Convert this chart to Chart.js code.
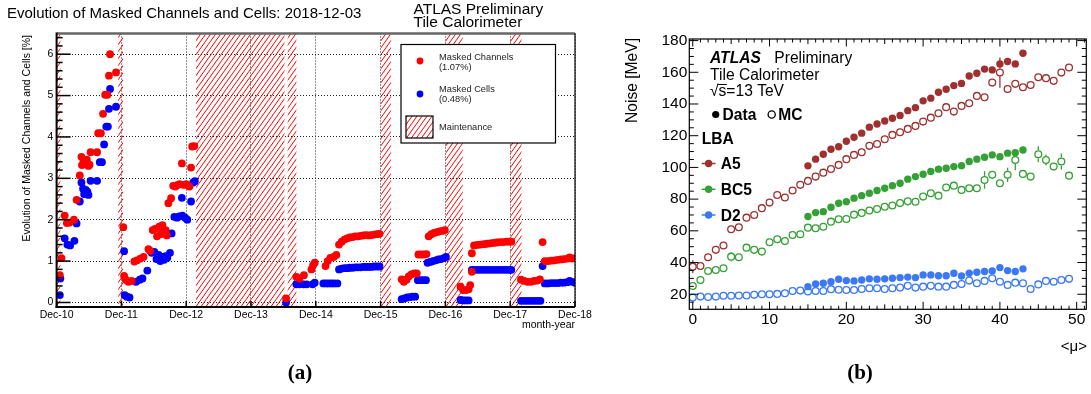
<!DOCTYPE html>
<html><head><meta charset="utf-8">
<script src="https://cdn.jsdelivr.net/npm/chart.js@4"></script>
<style>
html,body{margin:0;padding:0;background:#fff;width:1091px;height:394px;overflow:hidden}
#c1{position:absolute;left:0;top:0}
#c2{position:absolute;left:600px;top:0}
</style></head><body>
<canvas id="c1" width="600" height="394"></canvas>
<canvas id="c2" width="491" height="394"></canvas>
<script>
// ---------------- Panel (a) data ----------------
const monthTicks = ['Dec-10','Dec-11','Dec-12','Dec-13','Dec-14','Dec-15','Dec-16','Dec-17','Dec-18'];
// months since Dec-10
const maintenance = [[0,0.7],[11.4,12.3],[25.8,42.2],[42.8,44.4],[60.05,61.9],[72.05,75.2],[84.0,86.1]];
const maskedChannels = [
 [0.6,0.66],[0.9,1.07],[1.5,2.1],[1.9,1.92],[2.4,1.93],[3.2,2.0],[3.7,2.48],[4.3,3.07],[4.6,3.52],[4.7,3.32],[5.0,3.42],[5.3,3.35],[5.6,3.45],[5.9,3.3],[6.1,3.33],[6.3,3.63],[7.5,3.63],[7.7,4.09],[8.2,4.09],[8.6,4.56],[9.0,5.02],[9.4,5.02],[9.7,5.48],[9.9,6.0],[11.0,5.56],
 [12.35,1.82],[12.5,0.64],[12.8,0.55],[13.3,0.5],[13.9,0.52],[14.4,0.99],[14.9,1.02],[15.5,1.06],[16.1,1.1],[17.0,1.29],[17.3,1.25],[17.8,1.75],[18.2,1.78],[18.6,1.6],[19.0,1.83],[19.3,1.65],[19.6,1.87],[19.9,1.7],[20.2,1.75],[20.4,1.62],[20.7,2.4],[21.2,2.52],[21.6,2.82],[22.0,2.8],[22.4,2.84],[22.8,2.86],[23.2,3.36],[23.6,2.84],[24.0,2.86],[24.6,2.8],[24.9,3.26],[25.1,3.77],[25.5,3.78],
 [42.5,0.1],
 [44.4,0.62],[45.0,0.58],[45.8,0.66],[47.2,0.8],[47.5,0.9],[47.8,0.96],
 [49.8,0.88],[50.2,1.0],[50.7,1.08],[51.3,1.1],[51.8,1.15],
 [52.3,1.4],[52.8,1.47],[53.3,1.52],[53.8,1.55],[54.3,1.57],[54.8,1.58],[55.3,1.6],[55.8,1.6],[56.3,1.61],[56.8,1.62],[57.3,1.63],[57.8,1.62],[58.3,1.63],[58.8,1.64],[59.3,1.65],[59.8,1.66],
 [63.9,0.56],[64.3,0.5],[64.8,0.55],[65.2,0.63],[65.7,0.68],[66.2,0.7],[66.7,0.7],
 [67.0,1.16],[67.5,1.16],[68.0,1.16],[68.5,1.17],
 [68.9,1.6],[69.4,1.65],[69.9,1.68],[70.4,1.7],[70.9,1.72],[71.4,1.73],[71.9,1.75],
 [74.8,0.38],[75.3,0.3],[75.8,0.3],[76.3,0.32],[76.6,0.42],[76.9,0.74],[76.9,1.19],
 [77.3,1.38],[77.9,1.39],[78.5,1.4],[79.1,1.41],[79.7,1.42],[80.3,1.43],[80.9,1.44],[81.5,1.45],[82.1,1.46],[82.7,1.46],[83.3,1.47],[83.9,1.47],[84.2,1.47],
 [86.0,0.55],[86.6,0.52],[87.2,0.5],[87.8,0.5],[88.4,0.52],[89.0,0.53],[89.5,0.56],
 [90.0,1.46],
 [90.4,1.0],[91.0,1.0],[91.6,1.01],[92.2,1.02],[92.8,1.03],[93.4,1.04],[94.0,1.05],[94.6,1.06],[95.0,1.09],[95.5,1.06],[96.0,1.07]
];
const maskedCells = [
 [0.6,0.18],[0.7,0.58],[1.5,1.55],[2.0,1.4],[2.5,1.38],[3.3,1.49],[3.7,1.91],[4.3,2.44],[4.6,2.9],[4.9,2.75],[5.1,2.62],[5.4,2.72],[5.7,2.68],[5.9,2.6],[6.3,2.94],[7.5,2.94],[8.0,3.39],[8.4,3.39],[8.8,3.82],[9.2,4.25],[9.5,4.25],[9.7,4.68],[9.9,5.16],[11.0,4.73],
 [12.5,1.24],[12.6,0.18],[13.0,0.14],[13.5,0.12],[14.7,0.5],[15.4,0.55],[15.9,0.58],[16.8,0.77],[17.6,1.2],[18.1,1.22],[18.5,1.05],[18.9,1.15],[19.2,1.0],[19.5,1.1],[19.9,1.03],[20.2,1.12],[20.5,1.08],[21.0,1.2],[21.3,1.67],[21.8,2.07],[22.3,2.05],[22.7,2.08],[23.2,2.53],[23.3,2.1],[23.8,2.05],[24.2,2.0],[24.9,2.44],[25.3,2.9],[25.6,2.93],
 [42.5,0.0],
 [44.4,0.44],[45.0,0.44],[45.7,0.44],[46.3,0.44],[47.4,0.44],[47.8,0.48],
 [49.4,0.46],[49.9,0.46],[50.4,0.46],[50.9,0.46],[51.4,0.46],[52.0,0.46],
 [52.3,0.8],[52.8,0.82],[53.3,0.83],[53.8,0.83],[54.3,0.84],[54.8,0.84],[55.3,0.85],[55.8,0.85],[56.3,0.85],[56.8,0.86],[57.3,0.86],[57.8,0.86],[58.3,0.86],[58.8,0.87],[59.3,0.87],[59.8,0.87],
 [63.9,0.08],[64.4,0.1],[64.9,0.12],[65.4,0.13],[65.9,0.14],[66.4,0.14],
 [66.9,0.54],[67.4,0.54],[67.9,0.54],[68.4,0.54],
 [68.7,0.96],[69.2,0.98],[69.7,1.0],[70.2,1.02],[70.7,1.04],[71.2,1.05],[71.7,1.07],[72.1,1.1],
 [74.8,0.06],[75.3,0.05],[75.8,0.05],[76.3,0.05],
 [76.9,0.79],[77.3,0.79],[77.9,0.79],[78.5,0.79],[79.1,0.79],[79.7,0.79],[80.3,0.79],[80.9,0.79],[81.5,0.79],[82.1,0.79],[82.7,0.79],[83.3,0.79],[83.9,0.79],[84.2,0.79],
 [86.0,0.04],[86.6,0.04],[87.2,0.04],[87.8,0.04],[88.4,0.04],[89.0,0.04],[89.6,0.04],
 [90.0,0.88],
 [90.4,0.46],[91.0,0.46],[91.6,0.47],[92.2,0.47],[92.8,0.47],[93.4,0.48],[94.0,0.48],[94.6,0.49],[95.0,0.52],[95.5,0.5],[96.0,0.48]
];

// ---------------- Panel (b) data ----------------
const muMC = [0,1,2,3,4,5,6,7,8,9,10,11,12,13,14,15,16,17,18,19,20,21,22,23,24,25,26,27,28,29,30,31,32,33,34,35,36,37,38,39,40,41,42,43,44,45,46,47,48,49];
const muData = [15,16,17,18,19,20,21,22,23,24,25,26,27,28,29,30,31,32,33,34,35,36,37,38,39,40,41,42,43];
const a5Data  = [101,105.2,108.3,111.5,113,116.5,119,121.6,125.4,127.4,129.3,131,132.7,135.8,137.7,142,143.7,147.4,149.3,151.6,153,157.7,159.4,162,161.5,165.3,166.8,165.3,172];
const bc5Data = [69,71.5,72.1,74.9,77.4,78.4,80.6,82.2,83.7,85.4,86.9,88.5,90,92.6,94.2,95.7,97.4,98.9,99.5,100.5,101.1,103.7,105.2,106.4,107.9,106.8,109,109.3,111];
const d2Data  = [24.8,26.5,26.9,27.9,29.5,28.6,28.4,29,29.7,29.5,29.7,30.1,30.5,30.8,30.5,32.2,32.2,31.7,31.7,33.2,31.5,33.2,33.9,34.3,34.7,36.8,34.9,34.3,36];
const a5MC  = [37.4,37.8,43.3,48,50.7,61,62.3,68.3,70,74.3,77.8,82.6,81,85.4,89,91.5,94.2,96.7,99,101.6,105.2,107.9,109.6,113.6,114.8,117.8,120.5,122.2,124.3,126.2,128.9,131.4,134.2,138,135.2,138.8,140.5,145.1,144.3,153.5,159.8,149.5,152.7,150.6,152,156.9,156.3,154.6,159.8,163];
const bc5MC = [25.2,29,34.7,35.3,36.4,43.7,43.3,49.4,48,46.9,52.8,54.7,53.6,57.4,57.8,62,61.6,62.6,65.8,67.3,67.5,70.2,71.3,72.8,73.8,75.2,76,77.5,78.6,78.3,81.6,83.7,82.2,87.3,88.5,85.8,86.9,86.9,92.1,95.3,90,95.3,104.7,95.9,94.2,108.3,104.7,100.5,103.7,94.8];
const d2MC  = [17.9,18.5,18.3,18.5,19,19,19.2,19.2,19.6,20,20,20.2,20.6,22,22.3,21.7,22,22,23.2,22.8,22.7,22.7,23.3,23.8,23.8,23.3,23.8,24.2,25.3,24.2,24.8,25.3,24.8,24.8,25.9,26.5,28.6,26.9,28.4,30.1,27.9,25.9,27.3,26.9,23.3,26.2,28.4,27.9,29,29.7];
const a5MCErr  = [[0,4],[40,9.5]];
const bc5MCErr = [[5,3],[38,5.5],[41,4.5],[42,6.5],[45,5],[46,3.5],[48,5]];
const a5DataErr = [[40,2]];

const COL_A5 = '#a0302f', COL_BC5 = '#35a035', COL_D2 = '#3b78f6';
const SANS = '"Liberation Sans", Arial, Helvetica, sans-serif';
const SERIF = '"Liberation Serif", "Times New Roman", serif';
Chart.defaults.font.family = SANS;

function hatchPattern(ctx) {
  const w = 5, h = 7;
  const c = document.createElement('canvas'); c.width = w; c.height = h;
  const g = c.getContext('2d');
  g.strokeStyle = '#ff0000'; g.lineWidth = 1;
  g.beginPath();
  g.moveTo(0, h); g.lineTo(w, 0);
  g.moveTo(-w, h); g.lineTo(0, 0);
  g.moveTo(w, h); g.lineTo(2 * w, 0);
  g.stroke();
  return ctx.createPattern(c, 'repeat');
}
function line(ctx, x1, y1, x2, y2) { ctx.beginPath(); ctx.moveTo(x1, y1); ctx.lineTo(x2, y2); ctx.stroke(); }
function text(ctx, s, x, y, font, color, align) {
  ctx.font = font; ctx.fillStyle = color || '#000'; ctx.textAlign = align || 'left'; ctx.textBaseline = 'alphabetic';
  ctx.fillText(s, x, y);
}
function vtext(ctx, s, x, yEnd, font) {
  ctx.save(); ctx.translate(x, yEnd); ctx.rotate(-Math.PI / 2);
  ctx.font = font; ctx.fillStyle = '#000'; ctx.textAlign = 'right'; ctx.textBaseline = 'middle';
  ctx.fillText(s, 0, 0); ctx.restore();
}

// ---------------- Panel (a) ----------------
const leftDecor = {
  id: 'leftDecor',
  beforeDatasetsDraw(chart) {
    const { ctx, chartArea: a, scales: { x } } = chart;
    ctx.save();
    ctx.beginPath(); ctx.rect(a.left, a.top, a.right - a.left, a.bottom - a.top); ctx.clip();
    ctx.fillStyle = hatchPattern(ctx);
    for (const [s, e] of maintenance) {
      const x0 = x.getPixelForValue(s), x1 = x.getPixelForValue(e);
      ctx.fillRect(x0, a.top, x1 - x0, a.bottom - a.top);
    }
    ctx.restore();
  },
  afterDraw(chart) {
    const { ctx, chartArea: a, scales: { x, y } } = chart;
    ctx.save();
    ctx.lineCap = 'butt';
    ctx.strokeStyle = '#666'; ctx.lineWidth = 2.5; line(ctx, a.left, a.top, a.right, a.top);
    ctx.strokeStyle = '#000'; ctx.lineWidth = 1.2; line(ctx, a.right, a.top, a.right, a.bottom);
    ctx.lineWidth = 2; line(ctx, a.left, a.top - 1, a.left, a.bottom + 1); line(ctx, a.left - 1, a.bottom, a.right, a.bottom);
    ctx.lineWidth = 1.5;
    for (let i = 0; i <= 32; i++) {
      const py = y.getPixelForValue(i / 5);
      line(ctx, a.left, py, a.left + (i % 5 === 0 ? 14 : 6), py);
    }
    for (let i = 0; i < monthTicks.length; i++) {
      const px = x.getPixelForValue(i * 12);
      line(ctx, px, a.bottom, px, a.bottom - 6);
    }
    // texts
    text(ctx, 'Evolution of Masked Channels and Cells: 2018-12-03', 7, 17.5, '15px ' + SANS);
    text(ctx, 'ATLAS Preliminary', 413.5, 13.5, '15.5px ' + SANS);
    text(ctx, 'Tile Calorimeter', 413.5, 26.8, '15.5px ' + SANS);
    vtext(ctx, 'Evolution of Masked Channels and Cells [%]', 27.5, 35, '10.5px ' + SANS);
    text(ctx, 'month-year', 575, 328, '10.5px ' + SANS, '#000', 'right');
    text(ctx, '(a)', 300, 379, 'bold 21px ' + SERIF, '#000', 'center');
    // legend
    ctx.fillStyle = '#fff'; ctx.fillRect(401, 44.5, 154.5, 98.5);
    ctx.strokeStyle = '#000'; ctx.lineWidth = 1.2; ctx.strokeRect(401, 44.5, 154.5, 98.5);
    ctx.fillStyle = '#ff0000'; ctx.beginPath(); ctx.arc(420, 61, 3.4, 0, 2 * Math.PI); ctx.fill();
    ctx.fillStyle = '#0000ff'; ctx.beginPath(); ctx.arc(420, 94, 3.4, 0, 2 * Math.PI); ctx.fill();
    text(ctx, 'Masked Channels', 439, 59.5, '9.3px ' + SANS, '#222');
    text(ctx, '(1.07%)', 439, 69.5, '9.3px ' + SANS, '#222');
    text(ctx, 'Masked Cells', 439, 91.5, '9.3px ' + SANS, '#222');
    text(ctx, '(0.48%)', 439, 101.5, '9.3px ' + SANS, '#222');
    text(ctx, 'Maintenance', 439, 130, '9.3px ' + SANS, '#222');
    ctx.fillStyle = hatchPattern(ctx); ctx.fillRect(406, 116, 27, 22);
    ctx.strokeStyle = '#000'; ctx.lineWidth = 1.2; ctx.strokeRect(406, 116, 27, 22);
    ctx.restore();
  }
};

new Chart(document.getElementById('c1'), {
  type: 'scatter',
  data: { datasets: [
    { label: 'Masked Channels', data: maskedChannels.map(([x, y]) => ({ x, y })), backgroundColor: '#ff0000', borderWidth: 0, pointRadius: 3.9, pointHoverRadius: 3.9 },
    { label: 'Masked Cells', data: maskedCells.map(([x, y]) => ({ x, y })), backgroundColor: '#0000ff', borderWidth: 0, pointRadius: 3.9, pointHoverRadius: 3.9 }
  ]},
  options: {
    responsive: false, animation: false, devicePixelRatio: 1, events: [],
    layout: { padding: { left: 0, top: 33.5, right: 25, bottom: 0 } },
    plugins: { legend: { display: false }, tooltip: { enabled: false }, title: { display: false } },
    scales: {
      x: { type: 'linear', min: 0, max: 96,
        afterFit(s) { s.height = 87; },
        ticks: { stepSize: 12, includeBounds: false, autoSkip: false, maxRotation: 0, padding: 1.5, color: '#000',
          font: { family: SANS, size: 10.5 }, callback: v => monthTicks[Math.round(v / 12)] },
        grid: { color: '#222', lineWidth: 1, drawTicks: false },
        border: { display: false, dash: [1, 2] } },
      y: { type: 'linear', min: -0.109, max: 6.5,
        afterFit(s) { s.width = 56.6; },
        ticks: { stepSize: 1, includeBounds: false, padding: 3.3, color: '#000',
          font: { family: SANS, size: 10.5 }, callback: v => String(v) },
        grid: { color: '#222', lineWidth: 1, drawTicks: false },
        border: { display: false, dash: [1, 2] } }
    }
  },
  plugins: [leftDecor]
});

// ---------------- Panel (b) ----------------
function pts(mu, vals) { return vals.map((v, i) => ({ x: mu[i], y: v })); }
const rightDecor = {
  id: 'rightDecor',
  afterDatasetsDraw(chart) {
    const { ctx, scales: { x, y } } = chart;
    ctx.save(); ctx.lineWidth = 1.3;
    const bars = (errs, mu, vals, color, r) => {
      ctx.strokeStyle = color;
      for (const [m, e] of errs) {
        const i = mu.indexOf(m); const px = x.getPixelForValue(m);
        const p0 = y.getPixelForValue(vals[i]), pu = y.getPixelForValue(vals[i] + e), pd = y.getPixelForValue(vals[i] - e);
        if (p0 - pu > r) line(ctx, px, pu, px, p0 - r);
        if (pd - p0 > r) line(ctx, px, p0 + r, px, pd);
      }
    };
    bars(a5MCErr, muMC, a5MC, COL_A5, 4);
    bars(bc5MCErr, muMC, bc5MC, COL_BC5, 4);
    bars(a5DataErr, muData, a5Data, COL_A5, 3.6);
    ctx.restore();
  },
  afterDraw(chart) {
    const { ctx, chartArea: a, scales: { x, y } } = chart;
    ctx.save();
    ctx.strokeStyle = '#000'; ctx.lineWidth = 1.2;
    ctx.strokeRect(a.left, a.top, a.right - a.left, a.bottom - a.top);
    ctx.lineWidth = 1;
    for (let m = 0; m <= 51; m++) {
      const px = x.getPixelForValue(m); const len = m % 10 === 0 ? 7.5 : (m % 5 === 0 ? 5 : 3.5);
      line(ctx, px, a.bottom, px, a.bottom - len);
      line(ctx, px, a.top, px, a.top + len);
    }
    for (let v = 15; v <= 180; v += 5) {
      const py = y.getPixelForValue(v); const len = v % 20 === 0 ? 9 : 4.5;
      line(ctx, a.left, py, a.left + len, py);
      line(ctx, a.right, py, a.right - len, py);
    }
    vtext(ctx, 'Noise [MeV]', 32.5, 38, '15.6px ' + SANS);
    text(ctx, '<μ>', 487, 351, '15px ' + SANS, '#000', 'right');
    text(ctx, '(b)', 260, 379, 'bold 21px ' + SERIF, '#000', 'center');
    text(ctx, 'ATLAS', 110, 62.7, 'italic bold 15.6px ' + SANS);
    text(ctx, 'Preliminary', 174.3, 62.7, '15.6px ' + SANS);
    text(ctx, 'Tile Calorimeter', 110, 80, '15.6px ' + SANS);
    ctx.font = '15.6px ' + SANS;
    const wr = ctx.measureText('√').width, ws = ctx.measureText('s').width;
    text(ctx, '√s=13 TeV', 110, 96, '15.6px ' + SANS);
    ctx.strokeStyle = '#000'; ctx.lineWidth = 1; line(ctx, 110 + wr - 0.5, 84.5, 110 + wr + ws + 0.5, 84.5);
    ctx.fillStyle = '#000'; ctx.beginPath(); ctx.arc(115.7, 114.5, 3.6, 0, 2 * Math.PI); ctx.fill();
    text(ctx, 'Data', 122.5, 120, 'bold 15.6px ' + SANS);
    ctx.lineWidth = 1.3; ctx.beginPath(); ctx.arc(171.7, 114.5, 3.6, 0, 2 * Math.PI); ctx.stroke();
    text(ctx, 'MC', 178.3, 120, 'bold 15.6px ' + SANS);
    text(ctx, 'LBA', 101.7, 143.5, 'bold 15.6px ' + SANS);
    const rows = [['A5', COL_A5, 163.5], ['BC5', COL_BC5, 189.3], ['D2', COL_D2, 215]];
    for (const [lab, col, yy] of rows) {
      ctx.strokeStyle = col; ctx.lineWidth = 1.5; line(ctx, 101.7, yy, 115.5, yy);
      ctx.fillStyle = col; ctx.beginPath(); ctx.arc(108.6, yy, 3.7, 0, 2 * Math.PI); ctx.fill();
      text(ctx, lab, 120.7, yy + 5.6, 'bold 15.6px ' + SANS);
    }
    ctx.restore();
  }
};

const filled = (label, data, col) => ({ label, data, backgroundColor: col, borderColor: col, borderWidth: 0, pointRadius: 3.7, pointHoverRadius: 3.7 });
const open = (label, data, col) => ({ label, data, backgroundColor: 'rgba(0,0,0,0)', borderColor: col, borderWidth: 1.3, pointRadius: 3.4, pointHoverRadius: 3.4 });

new Chart(document.getElementById('c2'), {
  type: 'scatter',
  data: { datasets: [
    filled('A5 Data', pts(muData, a5Data), COL_A5),
    filled('BC5 Data', pts(muData, bc5Data), COL_BC5),
    filled('D2 Data', pts(muData, d2Data), COL_D2),
    open('A5 MC', pts(muMC, a5MC), COL_A5),
    open('BC5 MC', pts(muMC, bc5MC), COL_BC5),
    open('D2 MC', pts(muMC, d2MC), COL_D2)
  ]},
  options: {
    responsive: false, animation: false, devicePixelRatio: 1, events: [],
    layout: { padding: { left: 0, top: 39, right: 4, bottom: 0 } },
    plugins: { legend: { display: false }, tooltip: { enabled: false } },
    scales: {
      x: { type: 'linear', min: -0.45, max: 51.25,
        afterFit(s) { s.height = 84.7; },
        ticks: { stepSize: 10, includeBounds: false, autoSkip: false, maxRotation: 0, padding: 1, color: '#000',
          font: { family: SANS, size: 15.5 } },
        grid: { display: false, drawTicks: false }, border: { display: false } },
      y: { type: 'linear', min: 10.5, max: 181,
        afterFit(s) { s.width = 89.3; },
        ticks: { stepSize: 20, includeBounds: false, padding: 2, color: '#000',
          font: { family: SANS, size: 15.5 } },
        grid: { display: false, drawTicks: false }, border: { display: false } }
    }
  },
  plugins: [rightDecor]
});
</script></body></html>
